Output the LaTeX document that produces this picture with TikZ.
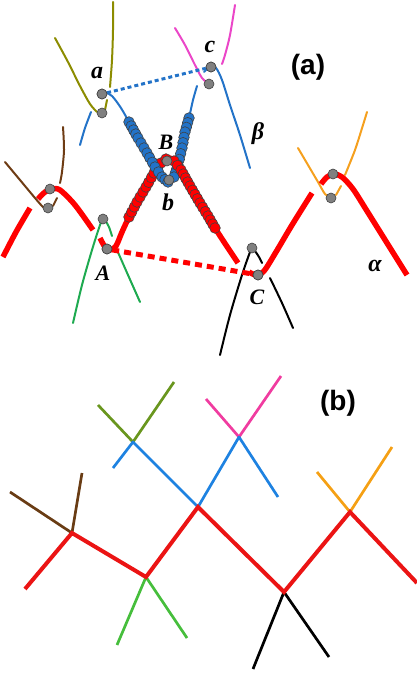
\documentclass[tikz,border=0pt]{standalone}
\usepackage{fontspec}
\setmainfont{Liberation Serif}
\newfontfamily\labsans{Liberation Sans}
\definecolor{ared}{RGB}{255,0,0}
\definecolor{ablue}{RGB}{35,115,200}
\definecolor{aolive}{RGB}{140,140,0}
\definecolor{amag}{RGB}{235,70,200}
\definecolor{abrown}{RGB}{110,60,20}
\definecolor{agreen}{RGB}{30,170,80}
\definecolor{aorange}{RGB}{245,160,30}
\definecolor{dotgray}{RGB}{128,128,128}
\definecolor{bred}{RGB}{235,20,20}
\definecolor{bblue}{RGB}{30,130,225}
\definecolor{bolive}{RGB}{105,150,30}
\definecolor{bmag}{RGB}{240,60,160}
\definecolor{bgreen}{RGB}{70,190,60}
\definecolor{bbrown}{RGB}{105,60,20}
\definecolor{borange}{RGB}{245,160,20}
\newcommand\beadrow[2]{% fill colour, list of segments ax/ay/bx/by
  \foreach \ax/\ay/\bx/\by in {#2} {%
    \pgfmathsetmacro\seglen{veclen(\bx-\ax,\by-\ay)}%
    \pgfmathtruncatemacro\segn{max(1,round(\seglen/5.0))}%
    \foreach \k in {1,...,\segn} {%
      \filldraw[fill=#1,draw=black!75,line width=0.6pt] ({\ax+(\bx-\ax)*\k/\segn},{\ay+(\by-\ay)*\k/\segn}) circle (5.3pt);
    }%
  }%
}
\begin{document}
\begin{tikzpicture}[x=1pt,y=-1pt,line join=round,
  thinc/.style={line width=2pt,line cap=round},
  alphal/.style={draw=ared,line width=5.5pt,line cap=butt},
  dotnode/.style={circle,fill=dotgray,draw=black!75,line width=0.6pt,minimum size=10pt,inner sep=0pt},
  bead/.style={fill=#1,draw=black!75,line width=0.6pt},
  lab/.style={font=\fontsize{22}{22}\selectfont\bfseries\itshape},
  lablc/.style={font=\fontsize{24}{24}\selectfont\bfseries\itshape},
  panel/.style={font=\labsans\fontsize{28}{28}\selectfont\bfseries},
  bline/.style={line width=2.7pt,line cap=butt},
]
\useasboundingbox (0,0) rectangle (417,674);

% ---------------- panel (a): thin curves ----------------
% brown
\draw[thinc,abrown] plot[smooth] coordinates {(5,162) (20,180) (35,198) (43,207) (48,210)};
\draw[thinc,abrown] plot[smooth] coordinates {(63,127) (64,150) (62,172) (60,183)};
\draw[thinc,abrown] plot[smooth] coordinates {(57,198) (53,206)};
% green
\draw[thinc,agreen] plot[smooth] coordinates {(73,323) (82,285) (92,250) (100,225) (103,219)};
\draw[thinc,agreen] plot[smooth] coordinates {(105,220) (109,227) (112,236)};
\draw[thinc,agreen] plot[smooth] coordinates {(117,250) (128,275) (140,302)};
% black
\draw[thinc,black] plot[smooth] coordinates {(220,355) (230,315) (242,275) (250,252) (252,248)};
\draw[thinc,black] plot[smooth] coordinates {(255,251) (259,257) (262,263)};
\draw[thinc,black] plot[smooth] coordinates {(270,278) (282,303) (293,328)};
% orange
\draw[thinc,aorange] plot[smooth] coordinates {(298,148) (308,165) (318,182) (325,194) (331,198)};
\draw[thinc,aorange] plot[smooth] coordinates {(336,195) (341,186)};
\draw[thinc,aorange] plot[smooth] coordinates {(345,175) (355,150) (363,125) (367,112)};
% olive
\draw[thinc,aolive] plot[smooth] coordinates {(55,38) (68,62) (80,86) (90,104) (97,112)};
\draw[thinc,aolive] plot[smooth] coordinates {(113,2) (113,30) (112,60) (110,87)};
\draw[thinc,aolive] plot[smooth] coordinates {(107,100) (105,110)};
% magenta
\draw[thinc,amag] plot[smooth] coordinates {(175,28) (185,45) (195,65) (202,78) (209,84)};
\draw[thinc,amag] plot[smooth] coordinates {(235,5) (230,35) (225,55) (222,64)};
% blue beta
\draw[thinc,ablue] plot[smooth] coordinates {(80,145) (85,128) (91,112)};
\draw[thinc,ablue] plot[smooth] coordinates {(99,96) (104,92) (112,96) (121,108) (129,122) (138,138) (147,153) (155,167) (162,178) (168,182) (174,178) (178,166) (182,148) (185,132) (189,118) (193,100) (197,86)};
\draw[thinc,ablue] plot[smooth] coordinates {(204,72) (210,67) (216,68) (222,80) (230,105) (240,135) (250,168)};

% ---------------- panel (a): alpha ----------------
\draw[alphal] plot[smooth] coordinates {(3,257) (16,232) (30,208)};
\draw[alphal] plot[smooth] coordinates {(38,199) (45,192) (52,189) (60,190) (75,205) (93,230)};
\draw[alphal] plot[smooth] coordinates {(100,238) (105,247) (110,250) (116,246) (122,232) (129,217) (137,202) (146,187) (154,173) (161,162) (167,158) (174,160) (181,170) (190,186) (200,203) (208,216) (215,228) (226,245) (238,263)};
\draw[alphal] plot[smooth] coordinates {(249,272) (256,275) (264,271) (276,252) (292,225) (312,193)};
\draw[alphal] plot[smooth] coordinates {(321,184) (327,177) (334,174) (342,177) (353,189) (367,211) (387,243) (407,275)};

% beads
\filldraw[bead=ared] (129,217) circle (5.3pt);
\beadrow{ared}{129/217/137/202, 137/202/146/187, 146/187/154/173, 154/173/161/163, 161/163/166/159}
\filldraw[bead=ablue] (129,122) circle (5.3pt);
\beadrow{ablue}{129/122/138/138, 138/138/147/153, 147/153/155/167, 155/167/162/177, 162/177/168/182}
\filldraw[bead=ablue] (189,118) circle (5.3pt);
\beadrow{ablue}{189/118/185/132, 185/132/182/148, 182/148/178/165, 178/165/174/177}
\filldraw[bead=ared] (174,161) circle (5.3pt);
\beadrow{ared}{174/161/181/170, 181/170/190/186, 190/186/200/203, 200/203/208/216, 208/216/215/228}

% dots
\node[dotnode] (a1) at (102,94) {};
\node[dotnode] (a2) at (102,113) {};
\node[dotnode] (c1) at (211,67) {};
\node[dotnode] (c2) at (209,84) {};
\node[dotnode] (br1) at (50,189) {};
\node[dotnode] (br2) at (48,208) {};
\node[dotnode] (g1) at (103,219) {};
\node[dotnode] (A1) at (107,249) {};
\node[dotnode] (B1) at (167,161) {};
\node[dotnode] (b1) at (169,180) {};
\node[dotnode] (k1) at (252,248) {};
\node[dotnode] (C1) at (258,275) {};
\node[dotnode] (o1) at (333,174) {};
\node[dotnode] (o2) at (331,198) {};

% dashed connectors
\draw[ablue,line width=3pt,dash pattern=on 4pt off 3pt] (a1) -- (c1);
\draw[ared,line width=5pt,dash pattern=on 7pt off 5pt] (A1) -- (C1);
\node[dotnode] at (a1) {};
\node[dotnode] at (c1) {};
\node[dotnode] at (A1) {};
\node[dotnode] at (C1) {};

% labels
\node[lablc] (la) at (97,73) {a};
\node[lablc] (lc) at (210,47) {c};
\node[lab] (lB) at (166,142) {B};
\node[lablc] (lb) at (168,202) {b};
\node[lab] (lA) at (103,273) {A};
\node[lab] (lC) at (257,297) {C};
\node[lablc] (lbeta) at (258,134) {β};
\node[lablc] (lalpha) at (375,266) {α};
\node[panel] (pa) at (308,67) {(a)};
\node[panel] (pb) at (338,403) {(b)};

% ---------------- panel (b) ----------------
\coordinate (r0) at (25,589);
\coordinate (jbr) at (72,533);
\coordinate (jg) at (146,577);
\coordinate (jb) at (198,507);
\coordinate (jk) at (284,592);
\coordinate (jo) at (350,512);
\coordinate (r6) at (417,583);
\coordinate (jol) at (133,442);
\coordinate (jm) at (239,437);
\coordinate (ebr1) at (10,492);
\coordinate (ebr2) at (82,473);
\coordinate (eg1) at (117,645);
\coordinate (eg2) at (187,638);
\coordinate (eb1) at (113,468);
\coordinate (eb2) at (278,497);
\coordinate (eol1) at (98,405);
\coordinate (eol2) at (174,382);
\coordinate (em1) at (206,399);
\coordinate (em2) at (281,376);
\coordinate (eo1) at (317,472);
\coordinate (eo2) at (392,447);
\coordinate (ek1) at (253,669);
\coordinate (ek2) at (329,657);

\draw[bline,bbrown] (ebr1) -- (jbr) -- (ebr2);
\draw[bline,bgreen] (eg1) -- (jg) -- (eg2);
\draw[bline,bolive] (eol1) -- (jol) -- (eol2);
\draw[bline,bmag] (em1) -- (jm) -- (em2);
\draw[bline,bblue] (eb1) -- (jol) -- (jb) -- (jm) -- (eb2);
\draw[bline,borange] (eo1) -- (jo) -- (eo2);
\draw[bline,black] (ek1) -- (jk) -- (ek2);
\draw[bred,line width=4pt,line cap=butt,line join=miter] (r0) -- (jbr) -- (jg) -- (jb) -- (jk) -- (jo) -- (r6);
\end{tikzpicture}
\end{document}
